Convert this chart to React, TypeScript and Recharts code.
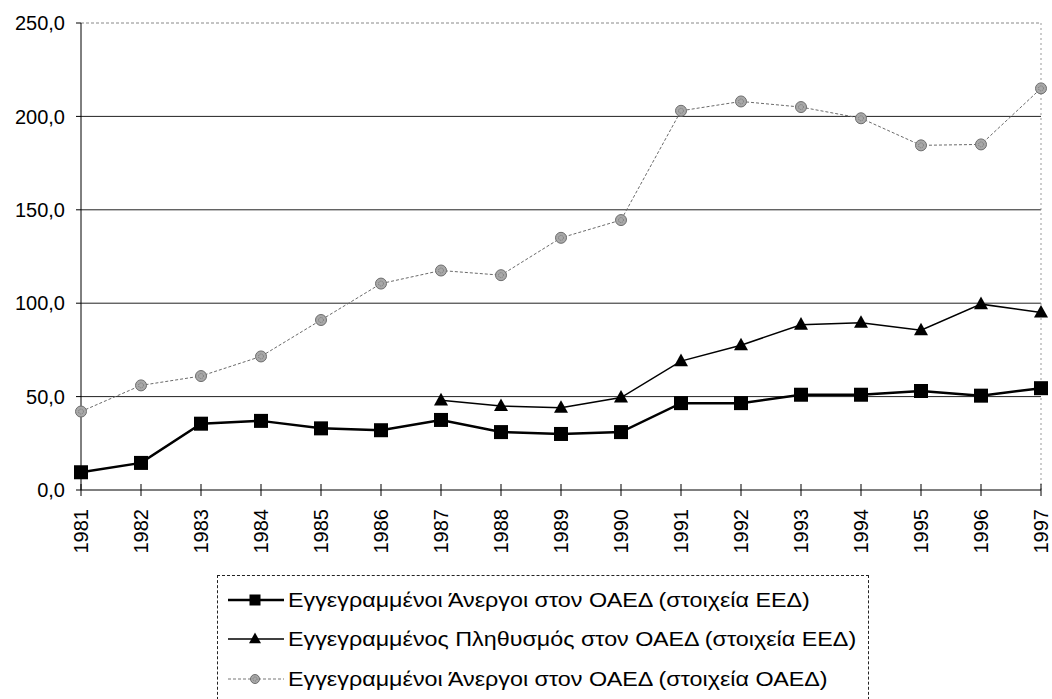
import React from 'react';
import { LineChart, Line, XAxis, YAxis, ReferenceLine, Legend } from 'recharts';

const years = ['1981', '1982', '1983', '1984', '1985', '1986', '1987', '1988', '1989', '1990', '1991', '1992', '1993', '1994', '1995', '1996', '1997'];
const unemployedEED = [9.5, 14.5, 35.5, 37, 33, 32, 37.5, 31, 30, 31, 46.5, 46.5, 51, 51, 53, 50.5, 54.5];
const populationEED = [null, null, null, null, null, null, 48, 45, 44, 49.5, 69, 77.5, 88.5, 89.5, 85.5, 99.5, 95];
const unemployedOAED = [42, 56, 61, 71.5, 91, 110.5, 117.5, 115, 135, 144.5, 203, 208, 205, 199, 184.5, 185, 215];
const yTicks = [0, 50, 100, 150, 200, 250];
const gridLines = [50, 100, 150, 200];

const seriesNames = [
  'Εγγεγραμμένοι Άνεργοι στον ΟΑΕΔ (στοιχεία ΕΕΔ)',
  'Εγγεγραμμένος Πληθυσμός στον ΟΑΕΔ (στοιχεία ΕΕΔ)',
  'Εγγεγραμμένοι Άνεργοι στον ΟΑΕΔ (στοιχεία ΟΑΕΔ)',
];

const data = years.map((year, i) => ({
  year,
  unemployedEED: unemployedEED[i],
  populationEED: populationEED[i],
  unemployedOAED: unemployedOAED[i],
}));

const FONT = '"Liberation Sans", Arial, sans-serif';

// marker shapes
const Square = ({ cx, cy, size = 14 }: any) => (
  <rect x={cx - size / 2} y={cy - size / 2} width={size} height={size} fill="#000" />
);
const Triangle = ({ cx, cy, size = 14 }: any) => {
  const h = size * 0.9;
  return (
    <polygon
      points={`${cx},${cy - h * 0.6} ${cx - size / 2},${cy + h * 0.4} ${cx + size / 2},${cy + h * 0.4}`}
      fill="#000"
    />
  );
};
const Dot = ({ cx, cy, r = 5.5 }: any) => (
  <g>
    <circle cx={cx} cy={cy} r={r} fill="#a8a8a8" stroke="#6e6e6e" strokeWidth={1} />
    <circle cx={cx} cy={cy} r={r * 0.45} fill="none" stroke="#777" strokeWidth={1} strokeDasharray="1 1" />
  </g>
);

const markerDot = (Shape: any) => (props: any) => {
  if (props.value == null || props.cy == null || isNaN(props.cy)) return <g key={props.index} />;
  return <Shape key={props.index} cx={props.cx} cy={props.cy} />;
};

const XTick = ({ x, y, payload }: any) => (
  <g>
    <line x1={x} x2={x} y1={y - 6} y2={y + 6} stroke="#000" strokeWidth={1} />
    <text
      x={x}
      y={y + 19}
      transform={`rotate(-90, ${x}, ${y + 19})`}
      textAnchor="end"
      dy="0.36em"
      fontSize={20}
      fontFamily={FONT}
      fill="#000"
    >
      {payload.value}
    </text>
  </g>
);

const legendIcons = [
  { stroke: '#000', width: 2.5, dash: undefined },
  { stroke: '#000', width: 1.5, dash: undefined },
  { stroke: '#777', width: 1, dash: '3 2' },
];

const LegendBox = () => (
  <div
    style={{
      border: '1px dashed #222',
      width: 652,
      height: 130,
      boxSizing: 'border-box',
      padding: '4px 0 0 9px',
      background: '#fff',
    }}
  >
    {seriesNames.map((name, i) => {
      const ic = legendIcons[i];
      return (
        <div key={name} style={{ display: 'flex', alignItems: 'center', height: 39.5 }}>
          <svg width={60} height={24} style={{ flex: 'none' }}>
            <line x1={1} x2={57} y1={12} y2={12} stroke={ic.stroke} strokeWidth={ic.width} strokeDasharray={ic.dash} />
            {i === 0 && <Square cx={28} cy={12} size={11} />}
            {i === 1 && <Triangle cx={28} cy={12} size={12} />}
            {i === 2 && <Dot cx={28} cy={12} r={4.5} />}
          </svg>
          <span
            style={{
              fontFamily: FONT,
              fontSize: 21,
              color: '#000',
              whiteSpace: 'nowrap',
              marginLeft: 1,
              display: 'inline-block',
              transform: 'scaleX(1.11)',
              transformOrigin: 'left center',
            }}
          >
            {name}
          </span>
        </div>
      );
    })}
  </div>
);

export default function App() {
  return (
    <div style={{ position: 'absolute', left: 0, top: 0, background: '#fff' }}>
      <LineChart width={1052} height={699} data={data} margin={{ top: 23, right: 11, left: 0, bottom: 0 }}>
        <XAxis
          dataKey="year"
          height={209}
          interval={0}
          tickLine={false}
          tickSize={0}
          tickMargin={0}
          tick={<XTick />}
          axisLine={{ stroke: '#000', strokeWidth: 1 }}
          padding={{ left: 0, right: 0 }}
        />
        <YAxis
          width={81}
          domain={[0, 250]}
          ticks={yTicks}
          interval={0}
          tickSize={5}
          tickMargin={11}
          tickLine={{ stroke: '#000' }}
          axisLine={{ stroke: '#000', strokeWidth: 1 }}
          tickFormatter={(v: number) => v.toFixed(1).replace('.', ',')}
          tick={{ fontSize: 20, fontFamily: FONT, fill: '#000' }}
        />
        {gridLines.map((v) => (
          <ReferenceLine key={v} y={v} stroke="#222" strokeWidth={1} ifOverflow="visible" />
        ))}
        <ReferenceLine y={250} stroke="#888" strokeWidth={1} strokeDasharray="3 2" ifOverflow="visible" />
        <ReferenceLine x="1997" stroke="#999" strokeWidth={1} strokeDasharray="2 3" ifOverflow="visible" />
        <Line
          dataKey="unemployedOAED"
          name={seriesNames[2]}
          stroke="#6a6a6a"
          strokeWidth={1}
          strokeDasharray="3 2"
          dot={markerDot(Dot)}
          activeDot={false}
          isAnimationActive={false}
        />
        <Line
          dataKey="populationEED"
          name={seriesNames[1]}
          stroke="#000"
          strokeWidth={1.5}
          dot={markerDot(Triangle)}
          activeDot={false}
          isAnimationActive={false}
        />
        <Line
          dataKey="unemployedEED"
          name={seriesNames[0]}
          stroke="#000"
          strokeWidth={2.5}
          dot={markerDot(Square)}
          activeDot={false}
          isAnimationActive={false}
        />
        <Legend
          layout="vertical"
          align="center"
          verticalAlign="middle"
          content={<LegendBox />}
          wrapperStyle={{ position: 'absolute', left: 217, top: 575, width: 652, height: 130 }}
        />
      </LineChart>
    </div>
  );
}
